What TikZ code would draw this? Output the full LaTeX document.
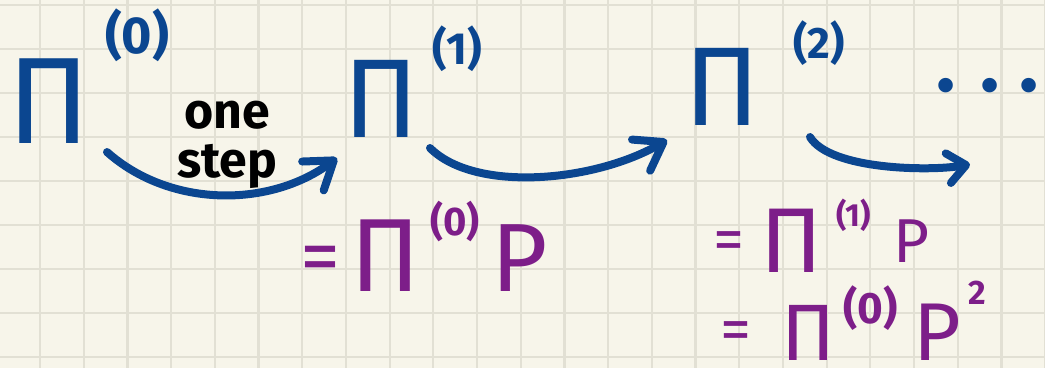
\documentclass[tikz,border=0pt]{standalone}
\usepackage{fontspec}
\setmainfont{Fira Sans}
\usetikzlibrary{arrows.meta}
\definecolor{paper}{HTML}{F7F5EA}
\definecolor{gridc}{HTML}{E2E0D4}
\definecolor{inkblue}{HTML}{0B4690}
\definecolor{inkpurple}{HTML}{7D1E89}
\newcommand\fsz[1]{\fontsize{#1}{#1}\selectfont}
\newcommand\supb[3]{\raisebox{#1}{\fsz{#2}\bfseries #3}}
\begin{document}
\begin{tikzpicture}[x=1pt,y=-1pt,
  gridline/.style={draw=gridc,line width=2.2pt},
  txt/.style={inner sep=0pt,outer sep=0pt,anchor=base west},
  bluetxt/.style={txt,text=inkblue},
  purptxt/.style={txt,text=inkpurple},
  flow/.style={draw=inkblue,line width=8pt,line cap=round,line join=round,
    -{Straight Barb[length=26pt,width=36pt,round]}},
]
\useasboundingbox (0,0) rectangle (1045,368);
\fill[paper] (0,0) rectangle (1045,368);
\foreach \i in {0,...,23} \draw[gridline] ({40+43.7*\i},0) -- ({40+43.7*\i},368);
\foreach \j in {0,...,8} \draw[gridline] (0,{5+44*\j}) -- (1045,{5+44*\j});

% blue states
\node[bluetxt] (pi0) at (8,143) {\fsz{123}Π\hspace{14pt}\supb{90pt}{52}{(0)}};
\node[bluetxt] (pi1) at (343,137) {\fsz{112}Π\hspace{14pt}\supb{73pt}{45}{(1)}};
\node[bluetxt] (pi2) at (684,125) {\fsz{112}Π\hspace{34pt}\supb{67pt}{44}{(2)}};
\node[bluetxt] (dots) at (936,91) {\fsz{80}\bfseries .\hspace{25pt}.\hspace{20pt}.};

% label
\node[txt,anchor=base,font=\fsz{50}\bfseries,align=center] (lbl) at (227,177) {one\\[-1pt]step};

% connectors
\draw[flow] ([shift={(99,9)}]pi0.south west) .. controls +(63,56) and +(-67,50) .. ([shift={(-6,21)}]pi1.south west);
\draw[flow] ([shift={(87,11)}]pi1.south west) .. controls +(45,45) and +(-72,42) .. ([shift={(-17,15)}]pi2.south west);
\draw[flow,-{Straight Barb[length=18pt,width=30pt,round]}] ([shift={(126,12)}]pi2.south west) .. controls +(20,33) and +(-40,7) .. ([shift={(34,72)}]dots.south west);

% purple equalities
\node[purptxt] (eqa) at (300,291) {{\fsz{80}\raisebox{8pt}{=}}\hspace{10pt}{\fsz{104}Π}\hspace{10pt}\supb{56pt}{40}{(0)}\hspace{12pt}{\fsz{97}P}};
\node[purptxt] (eqb) at (713,272) {{\fsz{62}\raisebox{12pt}{=}}\hspace{16pt}{\fsz{92}Π}\hspace{14pt}\supb{46pt}{32}{(1)}\hspace{22pt}{\fsz{62}\raisebox{10pt}{P}}};
\node[purptxt] (eqc) at (720,360) {{\fsz{62}\raisebox{10pt}{=}}\hspace{30pt}{\fsz{80}Π}\hspace{8pt}\supb{37pt}{44}{(0)}\hspace{16pt}{\fsz{82}P}\hspace{8pt}\supb{56pt}{34}{2}};
\end{tikzpicture}
\end{document}
